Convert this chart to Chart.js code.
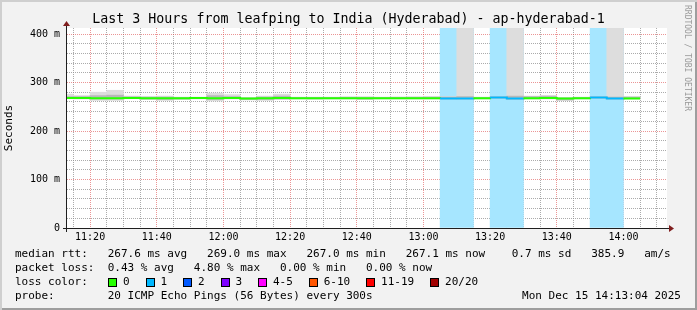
<!DOCTYPE html>
<html>
<head>
<meta charset="utf-8">
<script src="https://cdn.jsdelivr.net/npm/chart.js@4.4.1/dist/chart.umd.min.js"></script>
<style>
html,body{margin:0;padding:0;background:#f2f2f2;}
#wrap{position:relative;width:697px;height:310px;background:#f2f2f2;
  box-shadow:inset 2px 2px 0 #cfcfcf, inset -2px -2px 0 #9e9e9e;overflow:hidden;
  font-family:'DejaVu Sans Mono',monospace;color:#000;}
canvas{position:absolute;left:0;top:0;}
.t{position:absolute;white-space:pre;font-size:11px;line-height:14px;}
#title{left:0;width:697px;text-align:center;font-size:13.3px;line-height:16px;top:11px;}
#wm{position:absolute;left:692px;top:5px;transform-origin:0 0;transform:rotate(90deg);
  font-size:8px;line-height:9px;white-space:pre;color:#9a9a9a;}
.sw{position:absolute;width:7px;height:7px;border:1px solid #000;}
</style>
</head>
<body>
<div id="wrap">
<canvas id="c" width="697" height="310"></canvas>
<div id="title" class="t">Last 3 Hours from leafping to India (Hyderabad) - ap-hyderabad-1</div>
<div id="wm">RRDTOOL / TOBI OETIKER</div>
<div class="t" style="left:15px;top:247px">median rtt:   267.6 ms avg   269.0 ms max   267.0 ms min   267.1 ms now    0.7 ms sd   385.9   am/s</div>
<div class="t" style="left:15px;top:261px">packet loss:  0.43 % avg   4.80 % max   0.00 % min   0.00 % now</div>
<div class="t" style="left:15px;top:275px">loss color:</div>
<div class="t" style="left:15px;top:289px">probe:        20 ICMP Echo Pings (56 Bytes) every 300s</div>
<div class="t" style="right:16px;top:289px">Mon Dec 15 14:13:04 2025</div>
<div id="lossLegend"></div>
</div>
<script>
// ---------------- data ----------------
const rangeStart = '11:13:04';
const rangeEnd   = '14:13:04';
const slotEnds = ['11:15','11:20','11:25','11:30','11:35','11:40','11:45','11:50','11:55','12:00',
                  '12:05','12:10','12:15','12:20','12:25','12:30','12:35','12:40','12:45','12:50',
                  '12:55','13:00','13:05','13:10','13:15','13:20','13:25','13:30','13:35','13:40',
                  '13:45','13:50','13:55','14:00','14:05'];
const medianRtt = [268.0,268.0,267.6,267.8,268.0,267.8,267.4,267.8,267.9,267.4,
                   268.0,267.1,267.3,267.9,267.7,267.5,267.6,267.8,267.4,267.7,
                   267.6,267.8,267.8,267.0,267.0,267.8,269.0,267.0,267.7,268.0,
                   267.1,267.6,268.9,267.0,267.1];
const lossCount = [0,0,0,0,0,0,0,0,0,0,
                   0,0,0,0,0,0,0,0,0,0,
                   0,0,0,1,1,0,1,1,0,0,
                   0,0,1,1,0];
const smokeMin = [266.5,266,263,263,266.5,265,263,265,266,262,
                  266,264,263,265,266,265.5,266,266,265,266,
                  266,266,266,265.5,265,266,267.5,265,266,266,
                  263,266,267.5,265,266];
const smokeMax = [276,273,280,284,272,271,272,270,270,278,
                  275,269,272,276,270,270,270,271,271,270,
                  270.5,271,271,271,420,270,271,420,272,273,
                  269,270,271,420,271];
const smokeCoreMin = [267,267,266,266,267,266,265,266,267,265,
                      267,265,265,266,267,266.5,267,267,266,267,
                      267,267,267,266,266,267,268,265.5,267,267,
                      264,267,268,266,267];
const smokeCoreMax = [271,271,273,274,270.5,270,270,269,269,273,
                      271,268,270,272,269,269,269,269.5,269,269,
                      269,269.5,270,270,271,269,270.5,272,271,272,
                      268,269,270.5,270,270];
const yTickValues = [0,100,200,300,400];
const yTickLabels = ['0','100 m','200 m','300 m','400 m'];
const xTickLabels = ['11:20','11:40','12:00','12:20','12:40','13:00','13:20','13:40','14:00'];
const lossLegendLabels = ['0','1','2','3','4-5','6-10','11-19','20/20'];
const lossLegendMax    = [0,1,2,3,5,10,19,20];
const lossLegendColors = ['#26ff00','#00b8ff','#0059ff','#7e00ff','#ff00ff','#ff5500','#ff0000','#a10000'];
const yMax = 412.4;
const STEP = 5;      // minutes per slot
const X_GRID = 5;    // minor x grid (minutes)
const Y_GRID = 20;   // minor y grid (ms)

// ---------------- helpers ----------------
const toMin = s => { const p = s.split(':').map(Number); return p[0]*60 + p[1] + (p[2]||0)/60; };
const fmt = m => { const h = Math.floor(m/60), mm = Math.round(m - h*60); return String(h).padStart(2,'0')+':'+String(mm).padStart(2,'0'); };
const colorFor = n => { for (let i=0;i<lossLegendMax.length;i++) if (n <= lossLegendMax[i]) return lossLegendColors[i]; return lossLegendColors[lossLegendColors.length-1]; };
const lighten = (hex, a) => { const v = parseInt(hex.slice(1),16); const r=(v>>16)&255,g=(v>>8)&255,b=v&255;
  const f = c => Math.round(255 - a*(255-c)); return `rgb(${f(r)},${f(g)},${f(b)})`; };

const xMin = toMin(rangeStart), xMax = toMin(rangeEnd);
const ends = slotEnds.map(toMin);
const last = ends.length - 1;

const bandData = ends.map((e,i)=>({x:e-STEP/2, y:[0,yMax], loss:lossCount[i]})).filter(d=>d.loss>0);
const smokeData = ends.map((e,i)=>({x:e-STEP/2, y:[smokeMin[i], smokeMax[i]]}));
const coreData  = ends.map((e,i)=>({x:e-STEP/2, y:[smokeCoreMin[i], smokeCoreMax[i]]}));
const medData   = ends.map((e,i)=>({x:e-STEP, y:medianRtt[i]})).concat([{x:ends[last], y:medianRtt[last]}]);

// loss legend swatches
(function(){
  const host = document.getElementById('lossLegend');
  let x = 108;
  lossLegendLabels.forEach((lab,i)=>{
    const sw = document.createElement('div'); sw.className='sw';
    sw.style.left = x+'px'; sw.style.top = '278px'; sw.style.background = lossLegendColors[i];
    host.appendChild(sw);
    const t = document.createElement('div'); t.className='t'; t.textContent = lab;
    t.style.left = (x+15)+'px'; t.style.top = '275px';
    host.appendChild(t);
    x += 37.5 + 6.62*(lab.length-1);
  });
})();

const MAJOR = 'rgba(222,79,79,0.6)';
const MINOR = 'rgba(143,143,143,0.75)';

const framePlugin = {
  id: 'rrdFrame',
  beforeDraw(chart){
    const {ctx, chartArea:a} = chart;
    ctx.save(); ctx.fillStyle = '#fff'; ctx.fillRect(a.left, a.top, a.right-a.left, a.bottom-a.top); ctx.restore();
  },
  afterDatasetsDraw(chart){
    const {ctx, chartArea:a} = chart;
    ctx.save();
    ctx.strokeStyle = '#1f1f1f'; ctx.lineWidth = 1;
    ctx.beginPath();
    ctx.moveTo(a.left-4, a.bottom+0.5); ctx.lineTo(a.right+4, a.bottom+0.5);
    ctx.moveTo(a.left-0.5, a.bottom+4); ctx.lineTo(a.left-0.5, a.top-4);
    ctx.stroke();
    ctx.fillStyle = '#801f1f';
    ctx.beginPath();
    ctx.moveTo(a.right+2, a.bottom-3); ctx.lineTo(a.right+2, a.bottom+4); ctx.lineTo(a.right+7, a.bottom+0.5); ctx.closePath(); ctx.fill();
    ctx.beginPath();
    ctx.moveTo(a.left-4, a.top-2); ctx.lineTo(a.left+3, a.top-2); ctx.lineTo(a.left-0.5, a.top-7); ctx.closePath(); ctx.fill();
    ctx.restore();
  }
};

Chart.defaults.font.family = "'DejaVu Sans Mono', monospace";
Chart.defaults.color = '#000';

new Chart(document.getElementById('c'), {
  type: 'bar',
  data: {
    datasets: [
      { type:'line', label:'median', data: medData, order:0, clip:0,
        stepped:true, borderWidth:2, pointRadius:0, borderCapStyle:'butt',
        borderColor: colorFor(0),
        segment: { borderColor: c => colorFor(lossCount[Math.min(c.p0DataIndex, last)]) } },
      { label:'smoke core', data: coreData, order:1, clip:0, grouped:false,
        barPercentage:1, categoryPercentage:1, backgroundColor:'#b8b8b8', borderWidth:0, borderSkipped:false },
      { label:'smoke', data: smokeData, order:2, clip:0, grouped:false,
        barPercentage:1, categoryPercentage:1, backgroundColor:'#dddddd', borderWidth:0, borderSkipped:false },
      { label:'loss', data: bandData, order:3, clip:0, grouped:false,
        barPercentage:1, categoryPercentage:1, borderWidth:0, borderSkipped:false,
        backgroundColor: c => lighten(colorFor(c.raw ? c.raw.loss : 1), 0.35) }
    ]
  },
  options: {
    responsive:false, animation:false, devicePixelRatio:1,
    layout:{ padding:{ left:0, top:28, right:30, bottom:0 } },
    plugins:{ legend:{display:false}, title:{display:false}, tooltip:{enabled:false} },
    scales:{
      x:{ type:'linear', min:xMin, max:xMax, offset:false,
        afterBuildTicks: s => { const t=[]; for (let v=Math.ceil(xMin/X_GRID)*X_GRID; v<xMax; v+=X_GRID) t.push({value:v}); s.ticks=t; },
        afterFit: s => { s.height = 82; },
        grid:{ offset:false, drawTicks:false, lineWidth:1,
          color: c => (c.tick && xTickLabels.includes(fmt(c.tick.value))) ? MAJOR : MINOR },
        border:{ display:false, dash:[1,1] },
        ticks:{ autoSkip:false, maxRotation:0, minRotation:0, padding:3, font:{size:10},
          callback: v => { const s = fmt(v); return xTickLabels.includes(s) ? s : ''; } }
      },
      y:{ type:'linear', min:0, max:yMax,
        afterBuildTicks: s => { const t=[]; for (let v=0; v<=yTickValues[yTickValues.length-1]; v+=Y_GRID) t.push({value:v}); s.ticks=t; },
        afterFit: s => { s.width = 67; },
        grid:{ drawTicks:false, lineWidth:1,
          color: c => (c.tick && yTickValues.includes(c.tick.value)) ? MAJOR : MINOR },
        border:{ display:false, dash:[1,1] },
        title:{ display:true, text:'Seconds', font:{size:11}, padding:{top:3,bottom:0} },
        ticks:{ autoSkip:false, padding:7, font:{size:10},
          callback: v => { const i = yTickValues.indexOf(v); return i>=0 ? yTickLabels[i] : ''; } }
      }
    }
  },
  plugins:[framePlugin]
});
</script>
</body>
</html>
